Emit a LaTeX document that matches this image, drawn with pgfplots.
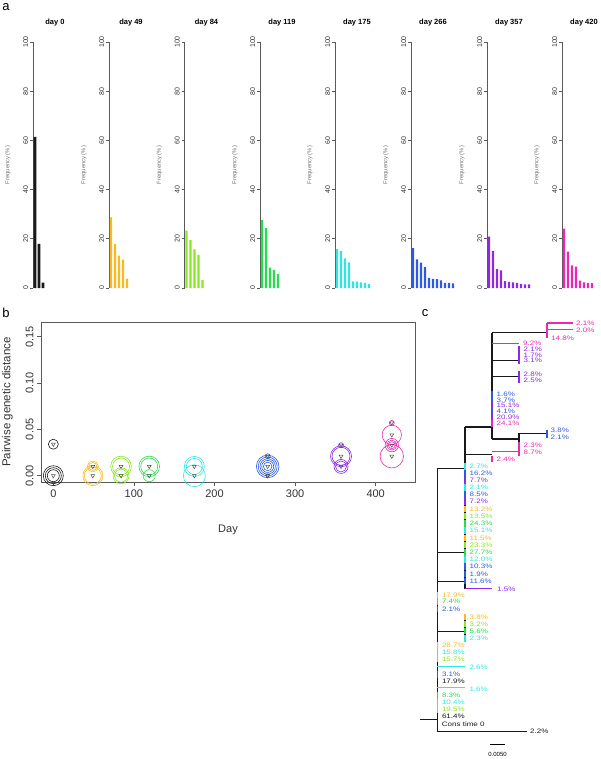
\documentclass[border=0pt]{standalone}
\usepackage{fontspec}
\setmainfont{Liberation Sans}
\usepackage{pgfplots}
\pgfplotsset{compat=1.18}

\definecolor{c0}{RGB}{25,25,25}
\definecolor{c49}{RGB}{250,185,30}
\definecolor{c84}{RGB}{140,230,40}
\definecolor{c119}{RGB}{40,220,80}
\definecolor{c175}{RGB}{50,228,228}
\definecolor{c266}{RGB}{45,90,225}
\definecolor{c357}{RGB}{140,40,230}
\definecolor{c420}{RGB}{235,40,180}
\definecolor{axgray}{RGB}{90,90,90}

\pgfplotsset{
  freq/.style={
    scale only axis, width=44pt, height=246pt,
    xmin=0.5, xmax=11.5, ymin=0, ymax=100,
    axis x line=none, axis y line*=left,
    y axis line style={axgray, line width=0.6pt},
    ytick={0,20,40,60,80,100}, yticklabels={0,20,40,60,80,100},
    tick align=outside, major tick length=3pt,
    ytick style={axgray, line width=0.6pt},
    yticklabel style={rotate=90, anchor=south, inner sep=1.5pt,
      font=\fontsize{7}{7}\selectfont, text=black!80},
    ylabel={Frequency (\%)},
    every axis y label/.style={at={(axis description cs:-0.57,0.5)}, rotate=90,
      anchor=center, font=\fontsize{5.8}{6}\selectfont, text=black!55},
    every axis title/.style={at={(axis description cs:0.5,1.077)}, anchor=center,
      font=\bfseries\fontsize{7.5}{8}\selectfont},
    clip=false,
  },
  circ/.style={scatter, only marks, mark=o, line width=0.6pt,
    scatter/use mapped color={draw=#1, fill=none},
    visualization depends on={value \thisrow{r} \as \rad},
    scatter/@pre marker code/.append style={/tikz/mark size=\rad}},
  tri/.style={only marks, mark=triangle, mark size=2.2pt,
    mark options={rotate=180, draw=black!70, line width=0.5pt}},
}

% tree helpers (pixel coordinates)
\newcommand\seg[5]{\addplot[#1, line width=1.1pt] coordinates {(#2,#3)(#4,#5)};}
\newcommand\lab[4]{\node[anchor=west, inner sep=0pt, text=#1,
  font=\fontsize{8}{8}\selectfont] at (axis cs:#2,#3) {\scalebox{1}[0.8]{#4}};}
\newcommand\leaf[4]{%
  \pgfmathsetmacro\ya{#3-3.3}\pgfmathsetmacro\yb{#3+3.3}%
  \addplot[#1, line width=1.4pt] coordinates {(#2,\ya)(#2,\yb)};
  \node[anchor=west, inner sep=0pt, xshift=4.5pt, text=#1,
    font=\fontsize{8}{8}\selectfont] at (axis cs:#2,#3) {\scalebox{1}[0.8]{#4}};}

\begin{document}
\begin{tikzpicture}
\useasboundingbox (0,0) rectangle (600pt,-759pt);

% ---- panel a
\node[font=\fontsize{13}{13}\selectfont] at (6pt,-7pt) {a};

\begin{axis}[freq, at={(33pt,-288pt)}, anchor=south west, title={day 0}]
\addplot[ybar, bar width=2.6pt, fill=c0, draw=none]
  coordinates {(1,61.4)(2,17.9)(3,2.2)};
\end{axis}
\begin{axis}[freq, at={(109pt,-288pt)}, anchor=south west, title={day 49}]
\addplot[ybar, bar width=2.2pt, fill=c49, draw=none]
  coordinates {(1,28.7)(2,17.9)(3,13.2)(4,11.5)(5,3.8)};
\end{axis}
\begin{axis}[freq, at={(184.5pt,-288pt)}, anchor=south west, title={day 84}]
\addplot[ybar, bar width=2.2pt, fill=c84, draw=none]
  coordinates {(1,23.3)(2,19.5)(3,15.7)(4,13.5)(5,3.2)};
\end{axis}
\begin{axis}[freq, at={(260pt,-288pt)}, anchor=south west, title={day 119}]
\addplot[ybar, bar width=2.2pt, fill=c119, draw=none]
  coordinates {(1,27.7)(2,24.3)(3,8.3)(4,7.4)(5,5.6)};
\end{axis}
\begin{axis}[freq, at={(335pt,-288pt)}, anchor=south west, title={day 175}]
\addplot[ybar, bar width=2.2pt, fill=c175, draw=none]
  coordinates {(1,15.8)(2,15.1)(3,12.0)(4,10.4)(5,2.7)(6,2.6)(7,2.3)(8,2.1)(9,1.6)};
\end{axis}
\begin{axis}[freq, at={(411pt,-288pt)}, anchor=south west, title={day 266}]
\addplot[ybar, bar width=2.2pt, fill=c266, draw=none]
  coordinates {(1,16.2)(2,11.6)(3,10.3)(4,8.5)(5,4.1)(6,3.7)(7,3.6)(8,3.1)(9,2.1)(10,2.1)(11,1.9)};
\end{axis}
\begin{axis}[freq, at={(487pt,-288pt)}, anchor=south west, title={day 357}]
\addplot[ybar, bar width=2.2pt, fill=c357, draw=none]
  coordinates {(1,20.9)(2,15.1)(3,7.7)(4,7.2)(5,2.8)(6,2.5)(7,2.3)(8,2.1)(9,1.7)(10,1.5)(11,1.5)};
\end{axis}
\begin{axis}[freq, at={(562pt,-288pt)}, anchor=south west, title={day 420}]
\addplot[ybar, bar width=2.2pt, fill=c420, draw=none]
  coordinates {(1,24.1)(2,14.8)(3,9.2)(4,8.7)(5,3.0)(6,2.3)(7,2.1)(8,2.0)};
\end{axis}

% ---- panel b
\node[font=\fontsize{13}{13}\selectfont] at (6pt,-313pt) {b};

\begin{axis}[
  scale only axis, width=374pt, height=160pt,
  at={(41pt,-482pt)}, anchor=south west,
  xmin=-15.3, xmax=448.8, ymin=-0.0068, ymax=0.1659,
  axis line style={axgray, line width=0.7pt},
  xtick={0,100,200,300,400}, xticklabels={0,100,200,300,400},
  ytick={0,0.05,0.1,0.15}, yticklabels={0.00,0.05,0.10,0.15},
  xtick pos=bottom, ytick pos=left,
  tick align=outside, major tick length=4pt,
  tick style={axgray, line width=0.7pt},
  xticklabel style={font=\fontsize{11}{11}\selectfont, text=black!80},
  yticklabel style={rotate=90, anchor=south, font=\fontsize{11}{11}\selectfont, text=black!80},
  xlabel={Day}, ylabel={Pairwise genetic distance},
  every axis x label/.style={at={(axis description cs:0.5,-0.3)}, anchor=center,
    font=\fontsize{11}{11}\selectfont, text=black!80},
  every axis y label/.style={at={(axis description cs:-0.09,0.5)}, rotate=90,
    anchor=center, font=\fontsize{11.5}{12}\selectfont, text=black!80},
  clip=false,
]
\addplot[circ=c0] table {
x y r
0 0 10
0 0 8
0 0 6
0 0.034 5
};
\addplot[circ=c49] table {
x y r
49 0.010 5.5
49 0.010 4
49 0 10
49 0 8.5
};
\addplot[circ=c84] table {
x y r
84 0.010 10.3
84 0.010 8.5
84 0 8
84 0 6.5
};
\addplot[circ=c119] table {
x y r
119 0.010 10.3
119 0.010 8.5
119 0 6
};
\addplot[circ=c175] table {
x y r
175 0.010 10
175 0.010 8
175 0 11
};
\addplot[circ=c266] table {
x y r
266 0.010 11.3
266 0.010 9.5
266 0.010 7.7
266 0.010 6
266 0.010 4.3
266 0.021 2.5
266 0 1.8
};
\addplot[circ=c357] table {
x y r
357 0.021 10.5
357 0.021 9
357 0.010 7
357 0.010 5.5
357 0.033 2.5
};
\addplot[circ=c420] table {
x y r
420 0.044 9.7
420 0.033 6.7
420 0.033 5
420 0.033 3.5
420 0.021 11.7
420 0.057 2.5
};
\addplot[tri] coordinates {
(0,0)(0,0.034)(49,0.010)(49,0)(84,0.010)(84,0)(119,0.010)(119,0)
(175,0.010)(175,0)(266,0.021)(266,0.010)(266,0)
(357,0.033)(357,0.021)(357,0.010)
(420,0.057)(420,0.044)(420,0.033)(420,0.021)};
\end{axis}

% ---- panel c
\node[font=\fontsize{13}{13}\selectfont] at (425pt,-313pt) {c};

\begin{axis}[
  scale only axis, width=185pt, height=459pt,
  at={(415pt,-759pt)}, anchor=south west,
  xmin=415, xmax=600, ymin=300, ymax=759, y dir=reverse,
  axis lines=none, clip=false, no markers,
]
% black backbone
\seg{c0}{420}{719.3}{437.3}{719.3}
\seg{c0}{437.3}{468.3}{437.3}{731.7}
\seg{c0}{437.3}{731.7}{527}{731.7}
\seg{c0}{437.3}{468.3}{465}{468.3}
\seg{c0}{437.3}{552.3}{465}{552.3}
\seg{c0}{437.3}{581.7}{465}{581.7}
\seg{c0}{437.3}{631.7}{465}{631.7}
\seg{c0}{465}{427}{465}{560}
\seg{c0}{465}{566}{465}{589}
\seg{c0}{465}{617}{465}{639}
\seg{c0}{465}{427}{492}{427}
\seg{c0}{492}{332.7}{492}{439}
\seg{c0}{492}{332.7}{547}{332.7}
\seg{c0}{492}{360.7}{519}{360.7}
\seg{c0}{492}{376.7}{519}{376.7}
\seg{c0}{492}{439}{519}{439}
\seg{c0}{519}{433}{519}{452}
\seg{c0}{519}{433.3}{547}{433.3}
\seg{c0}{465}{454.3}{492}{454.3}
% coloured branches
\seg{c420}{547}{323}{573}{323}
\seg{c420}{547}{329.5}{573}{329.5}
\seg{c420}{547}{323}{547}{338}
\seg{c420}{492}{343.3}{519}{343.3}
\seg{c420}{492}{451.7}{519}{451.7}
\seg{c266}{547}{430}{547}{438}
\seg{c357}{465}{588.3}{492}{588.3}
\seg{c175}{437.3}{666.7}{465}{666.7}
\seg{c175}{437.3}{687.7}{465}{687.7}
% tips and labels
\lab{c420}{576}{323}{2.1\%}
\lab{c420}{576}{330}{2.0\%}
\lab{c420}{551}{338}{14.8\%}
\lab{c420}{523}{343.3}{9.2\%}
\leaf{c357}{519}{349}{2.1\%}
\leaf{c357}{519}{355}{1.7\%}
\leaf{c357}{519}{360.5}{3.1\%}
\leaf{c357}{519}{374}{2.8\%}
\leaf{c357}{519}{380}{2.5\%}
\leaf{c266}{492}{394}{1.6\%}
\leaf{c266}{492}{400}{3.7\%}
\leaf{c357}{492}{405.5}{15.1\%}
\leaf{c266}{492}{411}{4.1\%}
\leaf{c357}{492}{417}{20.9\%}
\leaf{c420}{492}{423.5}{24.1\%}
\lab{c266}{550.5}{430.7}{3.8\%}
\lab{c266}{550.5}{437.7}{2.1\%}
\leaf{c420}{519}{445.5}{2.3\%}
\leaf{c420}{519}{452.3}{8.7\%}
\leaf{c420}{492}{459}{2.4\%}
\leaf{c175}{465}{466.7}{2.7\%}
\leaf{c266}{465}{473.7}{16.2\%}
\leaf{c357}{465}{480.7}{7.7\%}
\leaf{c175}{465}{487.7}{2.1\%}
\leaf{c266}{465}{494.7}{8.5\%}
\leaf{c357}{465}{501.7}{7.2\%}
\leaf{c49}{465}{509}{13.2\%}
\leaf{c84}{465}{516}{13.5\%}
\leaf{c119}{465}{523.3}{24.3\%}
\leaf{c175}{465}{530.7}{15.1\%}
\leaf{c49}{465}{538}{11.5\%}
\leaf{c84}{465}{545}{23.3\%}
\leaf{c119}{465}{552.3}{27.7\%}
\leaf{c175}{465}{559.3}{12.0\%}
\leaf{c266}{465}{566.7}{10.3\%}
\leaf{c266}{465}{574}{1.9\%}
\leaf{c266}{465}{581}{11.6\%}
\lab{c357}{497}{589}{1.5\%}
\leaf{c49}{437.3}{595}{17.9\%}
\leaf{c119}{437.3}{601.7}{7.4\%}
\leaf{c266}{437.3}{609}{2.1\%}
\leaf{c49}{465}{617}{3.8\%}
\leaf{c84}{465}{624}{3.2\%}
\leaf{c119}{465}{631}{5.6\%}
\leaf{c175}{465}{638.5}{2.3\%}
\leaf{c49}{437.3}{645.7}{28.7\%}
\leaf{c175}{437.3}{652.3}{15.8\%}
\leaf{c84}{437.3}{659}{15.7\%}
\lab{c175}{469.3}{667.5}{2.6\%}
\leaf{c266}{437.3}{674.3}{3.1\%}
\leaf{c0}{437.3}{681}{17.9\%}
\lab{c175}{469.3}{689}{1.6\%}
\leaf{c119}{437.3}{695.7}{8.3\%}
\leaf{c175}{437.3}{702.3}{10.4\%}
\leaf{c84}{437.3}{709.3}{19.5\%}
\leaf{c0}{437.3}{716}{61.4\%}
\lab{c0}{441.7}{724.3}{Cons time 0}
\lab{c0}{530}{731.7}{2.2\%}
% scale bar
\addplot[black, line width=1pt] coordinates {(490,744)(505,744)};
\node[font=\fontsize{6}{6}\selectfont] at (axis cs:497.5,754) {0.0050};
\end{axis}
\end{tikzpicture}
\end{document}
